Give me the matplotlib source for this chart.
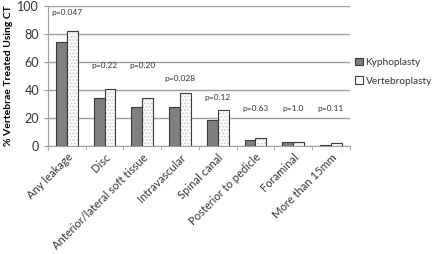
import numpy as np
import matplotlib.pyplot as plt

categories = ["Any leakage", "Disc", "Anterior/lateral soft tissue", "Intravascular",
              "Spinal canal", "Posterior to pedicle", "Foraminal", "More than 15mm"]
kypho = [74, 34, 28, 28, 18.5, 4, 3, 1]
vertebro = [82, 40.5, 34, 38, 25.5, 5.5, 3, 2.5]
p_labels = ["p=0.047", "p=0.22", "p=0.20", "p=0.028", "p=0.12", "p=0.63", "p=1.0", "p=0.11"]
p_heights = [93, 55, 55, 46, 32, 24, 24, 24]

plt.rcParams['font.family'] = ['Lato', 'DejaVu Sans']

fig = plt.figure(figsize=(4.4, 2.54), dpi=100)
ax = fig.add_axes([0.109, 0.425, 0.686, 0.551])

x = np.arange(len(categories))
w = 0.29

ax.bar(x - w / 2, kypho, w, color='#7f7f7f', edgecolor='#3a3a3a', linewidth=0.8,
       zorder=3, label='Kyphoplasty')
# dotted fill, then outline on top
ax.bar(x + w / 2, vertebro, w, color='white', edgecolor='#d0d0d0', hatch='.....',
       linewidth=0, zorder=3)
ax.bar(x + w / 2, vertebro, w, color='none', edgecolor='#3a3a3a', linewidth=0.8,
       zorder=4)
ax.bar([0], [0], 0, color='white', edgecolor='#3a3a3a', linewidth=0.8,
       label='Vertebroplasty')

for xi, lab, h in zip(x, p_labels, p_heights):
    ax.text(xi, h, lab, ha='center', va='bottom', fontsize=6, color='#333333')

ax.set_xlim(-0.5, len(categories) - 0.5)
ax.set_ylim(0, 100)
ax.set_yticks(range(0, 101, 20))
ax.yaxis.grid(True, color='#a0a0a0', linewidth=1)
ax.set_axisbelow(True)
ax.tick_params(axis='y', labelsize=9, length=3, color='#a0a0a0', labelcolor='#333333')

ax.set_xticks(x)
ax.set_xticklabels(categories, rotation=45, ha='right', rotation_mode='anchor',
                   fontsize=8, color='#333333')
ax.tick_params(axis='x', length=0, pad=4)
ax.set_xticks(np.arange(-0.5, len(categories)), minor=True)
ax.tick_params(axis='x', which='minor', length=3, color='#a0a0a0')

for s in ['top', 'right']:
    ax.spines[s].set_visible(False)
for s in ['left', 'bottom']:
    ax.spines[s].set_color('#a0a0a0')

ax.set_ylabel("% Vertebrae Treated Using CT", fontsize=7.5, fontweight='bold',
              labelpad=3)

leg = ax.legend(loc='upper left', bbox_to_anchor=(0.995, 0.68), frameon=False,
                fontsize=7.3, handlelength=0.75, handleheight=0.75, handletextpad=0.25,
                labelspacing=0.9, borderpad=0.2)
for t in leg.get_texts():
    t.set_color('#333333')

fig.savefig('out.png', dpi=100)
